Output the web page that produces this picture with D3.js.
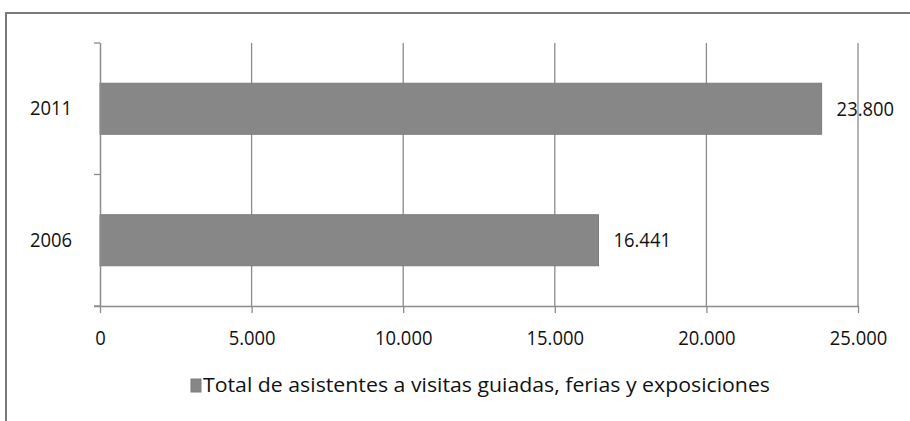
<!DOCTYPE html>
<html><head><meta charset="utf-8">
<script src="https://cdn.jsdelivr.net/npm/d3@7"></script>
<style>
html,body{margin:0;padding:0;background:#fff;}
svg{display:block;font-family:"Open Sans","Liberation Sans",sans-serif;}
</style></head>
<body>
<svg id="c" width="910" height="421"></svg>
<script>
const categories = ["2011", "2006"];
const values = [23800, 16441];
const valueLabels = ["23.800", "16.441"];
const xTicks = [0, 5000, 10000, 15000, 20000, 25000];
const xTickLabels = ["0", "5.000", "10.000", "15.000", "20.000", "25.000"];
const seriesName = "Total de asistentes a visitas guiadas, ferias y exposiciones";

(function () {
const svg = d3.select("#c");
const barColor = "#878787";
const gridColor = "#8c8c8c";
const textColor = "#111";
const font = "'Open Sans', sans-serif";
const fs = 20;
const squeeze = 0.92;
const pL = 100, pR = 858, pT = 43, pB = 306;

function narrow(sel) {
  sel.each(function () {
    const w = this.getComputedTextLength();
    d3.select(this).attr("textLength", w * squeeze).attr("lengthAdjust", "spacingAndGlyphs");
  });
}

// frame
svg.append("path").attr("d", `M6,421 V13 H910`).attr("fill", "none")
  .attr("stroke", "#7a7a7a").attr("stroke-width", 2);

const x = d3.scaleLinear().domain([0, 25000]).range([pL, pR]);
const y = d3.scaleBand().domain(categories).range([pT, pB])
  .paddingInner(0.612).paddingOuter(0.306);

// gridlines
svg.append("g").selectAll("line").data(xTicks.slice(1)).join("line")
  .attr("x1", d => x(d)).attr("x2", d => x(d))
  .attr("y1", pT).attr("y2", pB)
  .attr("stroke", gridColor).attr("stroke-width", 1.3);

// bars
svg.append("g").selectAll("rect").data(categories).join("rect")
  .attr("x", x(0)).attr("y", d => y(d))
  .attr("width", (d, i) => x(values[i]) - x(0))
  .attr("height", y.bandwidth())
  .attr("fill", barColor).attr("stroke", "#7c7c7c").attr("stroke-width", 1);

// x axis
const xAxis = d3.axisBottom(x).tickValues(xTicks)
  .tickFormat((d, i) => xTickLabels[i]).tickSize(7).tickPadding(18);
const gx = svg.append("g").attr("transform", `translate(0,${pB})`).call(xAxis);
gx.select(".domain").attr("d", `M${pL - 6},0.5H${pR}`).attr("stroke", gridColor).attr("stroke-width", 1.5);
gx.selectAll(".tick line").attr("stroke", gridColor).attr("stroke-width", 1.3);
gx.selectAll(".tick text").attr("font-size", fs).attr("fill", textColor)
  .attr("font-family", font).call(narrow);

// y axis
const yAxis = d3.axisLeft(y).tickSize(0).tickPadding(28);
const gy = svg.append("g").attr("transform", `translate(${pL},0)`).call(yAxis);
gy.select(".domain").attr("d", `M0.5,${pT}V${pB}`).attr("stroke", gridColor).attr("stroke-width", 1.5);
gy.selectAll(".tick text").attr("font-size", fs).attr("fill", textColor)
  .attr("font-family", font).call(narrow);
// category boundary ticks
const bounds = [pT, pT + (pB - pT) / 2, pB];
svg.append("g").selectAll("line").data(bounds).join("line")
  .attr("x1", pL - 6).attr("x2", pL).attr("y1", d => d).attr("y2", d => d)
  .attr("stroke", gridColor).attr("stroke-width", 1.3);

// value labels
svg.append("g").selectAll("text").data(categories).join("text")
  .attr("x", (d, i) => x(values[i]) + 15)
  .attr("y", d => y(d) + y.bandwidth() / 2)
  .attr("dy", "0.35em")
  .attr("font-size", fs).attr("fill", textColor)
  .text((d, i) => valueLabels[i]).call(narrow);

// legend
const lg = svg.append("g");
lg.append("rect").attr("x", 191).attr("y", 379).attr("width", 10).attr("height", 13)
  .attr("fill", barColor).attr("stroke", "#7c7c7c");
lg.append("text").attr("x", 203).attr("y", 385).attr("dy", "0.36em")
  .attr("font-size", fs).attr("fill", textColor)
  .attr("textLength", 567).attr("lengthAdjust", "spacingAndGlyphs")
  .text(seriesName);
})();
</script>
</body></html>
